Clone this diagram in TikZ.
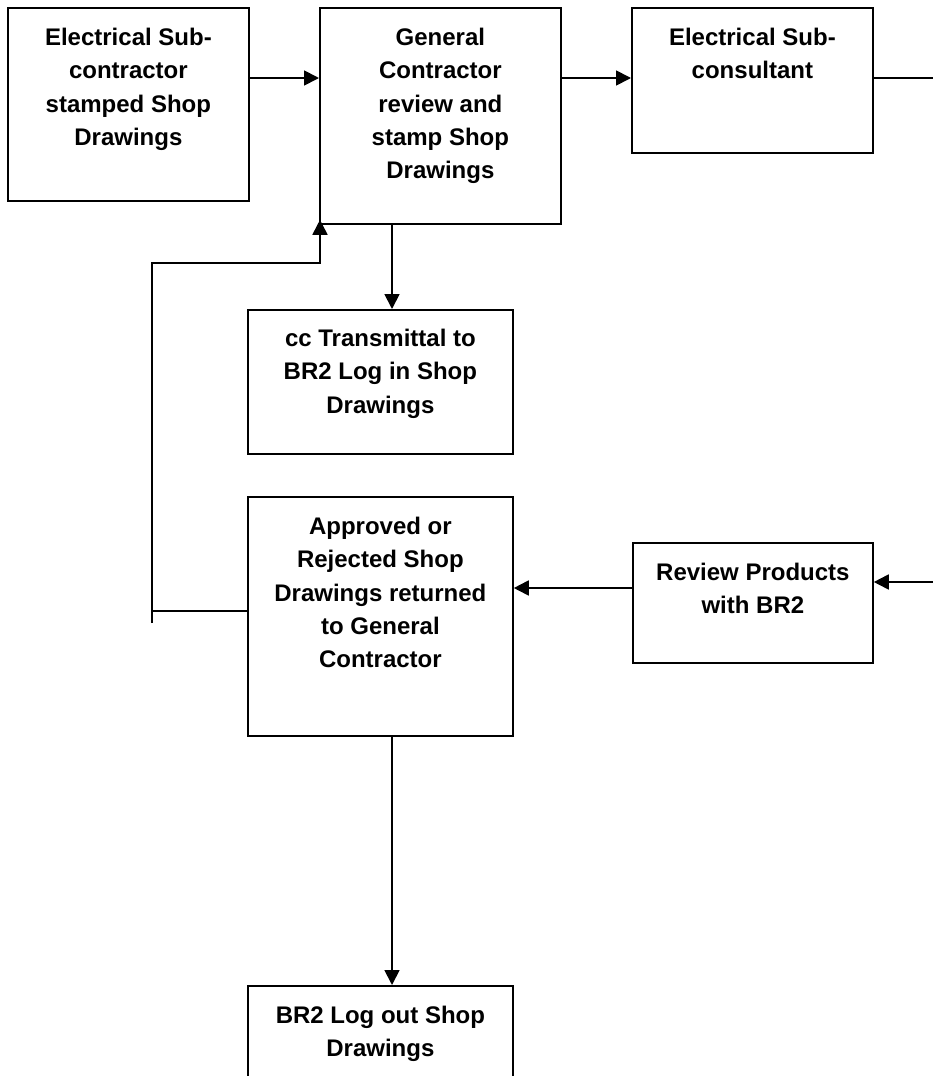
\documentclass[tikz,border=0pt]{standalone}
\usepackage{fontspec}
\setmainfont{Liberation Sans}
\usetikzlibrary{arrows.meta,positioning,calc}
\definecolor{inkBlack}{RGB}{0, 0, 0}

\tikzset{
  flowbox/.style={draw=inkBlack, line width=1.8pt, anchor=north west, inner sep=0pt},
  boxlabel/.style={align=center, inner sep=0pt, anchor=north, text=inkBlack,
    font=\fontsize{24pt}{33.3pt}\selectfont\bfseries},
  flowline/.style={draw=inkBlack, line width=1.8pt},
  flowarrow/.style={flowline, -{Triangle[length=15pt, width=15pt]}}
}

\begin{document}
\begin{tikzpicture}[x=1pt, y=-1pt]
                \useasboundingbox (0,0) rectangle (933,1076);
                \clip (0,0) rectangle (933,1076);

                % boxes
                \node[flowbox, minimum width=241pt, minimum height=193pt] (elecsub) at (7,7) {};
                \node[flowbox, minimum width=241pt, minimum height=216pt] (gencon) at (319,7) {};
                \node[flowbox, minimum width=241pt, minimum height=145pt] (subcons) at (631,7) {};
                \node[flowbox, minimum width=265pt, minimum height=144pt] (cclog) at (247,309) {};
                \node[flowbox, minimum width=265pt, minimum height=239pt] (returned) at (247,496) {};
                \node[flowbox, minimum width=240pt, minimum height=120pt] (review) at (632,542) {};
                \node[flowbox, minimum width=265pt, minimum height=140pt] (logout) at (247,985) {};

                % texts
                \node[boxlabel, below=21pt of elecsub.north] (elecsubtext) {Electrical Sub-\\contractor\\stamped Shop\\Drawings};
                \node[boxlabel, below=21pt of gencon.north] (gencontext) {General\\Contractor\\review and\\stamp Shop\\Drawings};
                \node[boxlabel, below=21pt of subcons.north] (subconstext) {Electrical Sub-\\consultant};
                \node[boxlabel, below=20pt of cclog.north] (cclogtext) {cc Transmittal to\\BR2 Log in Shop\\Drawings};
                \node[boxlabel, below=21pt of returned.north] (returnedtext) {Approved or\\Rejected Shop\\Drawings returned\\to General\\Contractor};
                \node[boxlabel, below=21pt of review.north] (reviewtext) {Review Products\\with BR2};
                \node[boxlabel, below=21pt of logout.north] (logouttext) {BR2 Log out Shop\\Drawings};

                % free ends and bends
                \coordinate (rightout) at (940,78);
                \coordinate (rightin) at (940,582);
                \coordinate (loopbot) at (152,623);
                \coordinate (looptop) at (152,263);
                \coordinate (retjoin) at ([yshift=-115pt]returned.north west);

                % connectors
                \draw[flowarrow] ([yshift=-71pt]elecsub.north east) -- ([yshift=-71pt]gencon.north west);
                \draw[flowarrow] ([yshift=-71pt]gencon.north east) -- ([yshift=-71pt]subcons.north west);
                \draw[flowline] ([yshift=-71pt]subcons.north east) -- (rightout);
                \draw[flowarrow] (rightin) -- ([yshift=-40pt]review.north east);
                \draw[flowarrow] ([yshift=-46pt]review.north west) -- ([yshift=-92pt]returned.north east);
                \draw[flowline] (retjoin) -- (retjoin -| loopbot);
                \draw[flowarrow] (loopbot) -- (looptop) -| ([xshift=1pt, yshift=5pt]gencon.south west);
                \draw[flowarrow] ([xshift=73pt]gencon.south west) -- ([xshift=145pt]cclog.north west);
                \draw[flowarrow] ([xshift=145pt]returned.south west) -- ([xshift=145pt]logout.north west);
            \end{tikzpicture}
\end{document}
